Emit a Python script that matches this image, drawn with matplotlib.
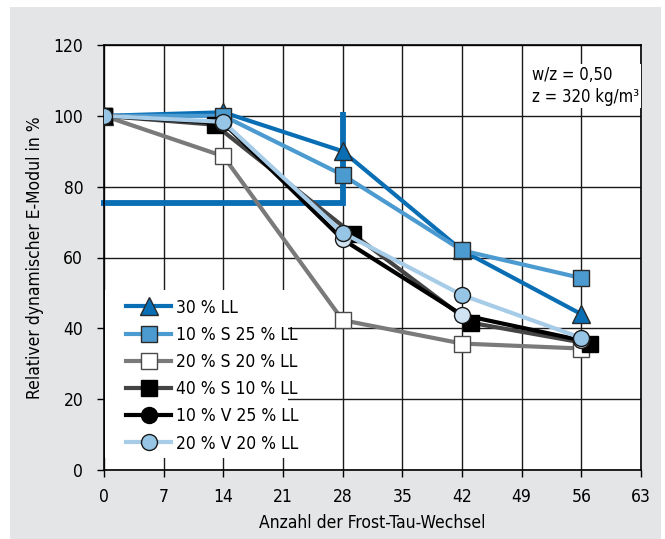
import matplotlib
matplotlib.use("Agg")
import matplotlib.pyplot as plt
from matplotlib.lines import Line2D
from matplotlib.patches import Rectangle

plt.rcParams['font.family'] = ['DejaVu Sans']
plt.rcParams['font.stretch'] = 'condensed'

# Frost-thaw cycles and relative dynamic modulus (%)
cycles = [0, 14, 28, 42, 56]
cycles_s40 = [0, 13, 29.2, 43, 57]

ll30 = [100, 101, 90, 62, 44]
s10_ll25 = [100, 100, 83.3, 62, 54.2]
s20_ll20 = [100, 88.6, 42.3, 35.7, 34.3]
s40_ll10 = [100, 97.5, 66.6, 41.6, 35.6]
v10_ll25 = [100, 98, 65.1, 43.8, 36.6]
v20_ll20 = [100, 98.3, 67.0, 49.4, 37.3]

labels = ["30 % LL", "10 % S 25 % LL", "20 % S 20 % LL",
          "40 % S 10 % LL", "10 % V 25 % LL", "20 % V 20 % LL"]

# limit marking: 75 % up to 28 cycles
limit_x = [-0.4, 28, 28]
limit_y = [75.5, 75.5, 101]

x_ticks = [0, 7, 14, 21, 28, 35, 42, 49, 56, 63]
y_ticks = [0, 20, 40, 60, 80, 100, 120]

fig = plt.figure(figsize=(6.65, 5.39), dpi=100)
fig.patch.set_facecolor('white')
fig.patches.append(Rectangle((10 / 665, 0), 651 / 665, 532 / 539,
                             transform=fig.transFigure, facecolor='#e4e5e6',
                             edgecolor='none', zorder=-10))

ax = fig.add_axes([104 / 665, 69 / 539, 537 / 665, 425 / 539])
ax.set_facecolor('white')
ax.set_xlim(0, 63)
ax.set_ylim(0, 120)
ax.set_xticks(x_ticks)
ax.set_yticks(y_ticks)
ax.set_axisbelow(True)
ax.grid(True, color='#1a1a1a', linewidth=1.0)
for s in ax.spines.values():
    s.set_color('black')
    s.set_linewidth(1.2)
ax.tick_params(axis='both', direction='out', length=5, width=1.0,
               labelsize=12.5, colors='black')
ax.tick_params(axis='y', pad=10)
ax.tick_params(axis='x', pad=8)

ax.set_xlabel("Anzahl der Frost-Tau-Wechsel", fontsize=12.5)
ax.set_ylabel("Relativer dynamischer E-Modul in %", fontsize=12.5)
ax.xaxis.set_label_coords(0.5, -0.103)
ax.yaxis.set_label_coords(-0.112, 0.5)

# white area behind the legend
ax.add_patch(Rectangle((0.002, 0.028), 0.341, 0.395, transform=ax.transAxes,
                       facecolor='white', edgecolor='none', zorder=1))

ax.plot(limit_x, limit_y, color='#0a6eb4', linewidth=4.2, zorder=1.8,
        clip_on=False, solid_capstyle='butt', solid_joinstyle='miter')

lw = 3.0
ms = 11.5
ax.plot(cycles, ll30, color='#0a6eb4', lw=lw, marker='^', ms=ms + 1,
        mfc='#0a6eb4', mec='#2a2a2a', mew=1.0, zorder=3)
ax.plot(cycles, s10_ll25, color='#4b9ad0', lw=lw, marker='s', ms=ms,
        mfc='#4b9ad0', mec='#2a2a2a', mew=1.0, zorder=3)
ax.plot(cycles, s20_ll20, color='#7a7a7a', lw=lw, marker='s', ms=ms,
        mfc='white', mec='#4a4a4a', mew=1.0, zorder=3)
ax.plot(cycles_s40, s40_ll10, color='#444444', lw=lw, marker='s', ms=ms,
        mfc='black', mec='black', mew=1.0, zorder=3)
ax.plot(cycles, v10_ll25, color='black', lw=lw, marker='o', ms=ms,
        mfc='#cfe3f3', mec='#1a1a1a', mew=1.0, zorder=3)
ax.plot(cycles, v20_ll20, color='#a7cce8', lw=lw, marker='o', ms=ms,
        mfc='#97c5e5', mec='#1a1a1a', mew=1.0, zorder=3)

ax.text(50.2, 114, "w/z = 0,50\nz = 320 kg/m³", fontsize=12, ha='left',
        va='top', linespacing=1.25, zorder=4,
        bbox=dict(facecolor='white', edgecolor='none', pad=1.5))

handles = [
    Line2D([], [], color='#0a6eb4', lw=lw, marker='^', ms=ms + 1,
           mfc='#0a6eb4', mec='#2a2a2a'),
    Line2D([], [], color='#4b9ad0', lw=lw, marker='s', ms=ms,
           mfc='#4b9ad0', mec='#2a2a2a'),
    Line2D([], [], color='#7a7a7a', lw=lw, marker='s', ms=ms,
           mfc='white', mec='#4a4a4a'),
    Line2D([], [], color='#444444', lw=lw, marker='s', ms=ms,
           mfc='black', mec='black'),
    Line2D([], [], color='black', lw=lw, marker='o', ms=ms,
           mfc='black', mec='black'),
    Line2D([], [], color='#a7cce8', lw=lw, marker='o', ms=ms,
           mfc='#97c5e5', mec='#1a1a1a'),
]
ax.legend(handles, labels, loc='lower left', bbox_to_anchor=(0.041, 0.041),
          frameon=False, borderpad=0, borderaxespad=0, fontsize=12.5,
          handlelength=2.6, handletextpad=0.3, labelspacing=0.53)

fig.savefig("out.png", dpi=100, facecolor='white')
